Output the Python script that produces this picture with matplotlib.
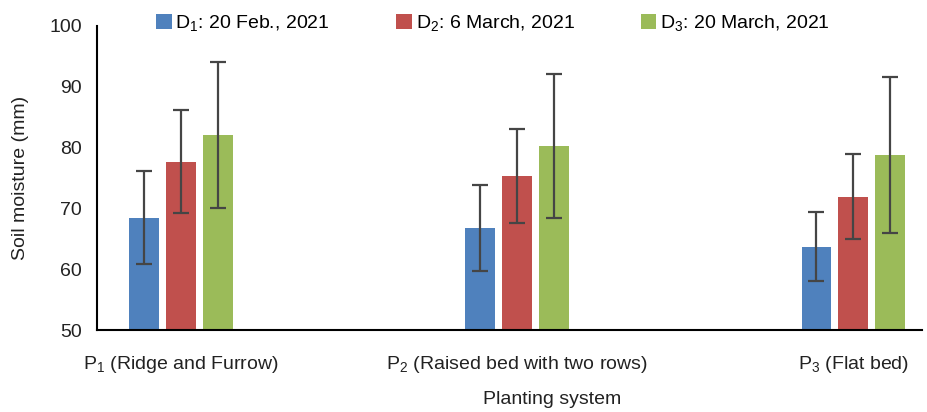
import numpy as np
import matplotlib
matplotlib.use("Agg")
import matplotlib.pyplot as plt

plt.rcParams['font.family'] = ['Liberation Sans', 'DejaVu Sans']
plt.rcParams['mathtext.fontset'] = 'custom'
plt.rcParams['mathtext.rm'] = 'Liberation Sans'

# soil moisture (mm) per planting system, three dates
systems = [r"P$_\mathregular{1}$ (Ridge and Furrow)",
           r"P$_\mathregular{2}$ (Raised bed with two rows)",
           r"P$_\mathregular{3}$ (Flat bed)"]
dates = [r"D$_\mathregular{1}$: 20 Feb., 2021",
         r"D$_\mathregular{2}$: 6 March, 2021",
         r"D$_\mathregular{3}$: 20 March, 2021"]
d1 = [68.5, 66.8, 63.7]
d2 = [77.7, 75.3, 71.9]
d3 = [82.0, 80.3, 78.8]
d1_err = [7.7, 7.05, 5.7]
d2_err = [8.45, 7.75, 7.0]
d3_err = [12.0, 11.85, 12.8]

colors = ["#4F81BD", "#C0504D", "#9BBB59"]

fig = plt.figure(figsize=(9.27, 4.12), dpi=100)
ax = fig.add_axes([0.1046, 0.199, 0.8900, 0.738])

x = np.arange(len(systems))
w = 0.087
step = 0.11
series = [d1, d2, d3]
errs = [d1_err, d2_err, d3_err]
for i in range(3):
    ax.bar(x + (i - 1) * step, series[i], w, color=colors[i], label=dates[i],
           yerr=errs[i], capsize=5.5,
           error_kw=dict(ecolor="#454545", elinewidth=1.6, capthick=1.6))

ax.set_ylim(50, 100)
ax.set_xlim(-0.25, 2.205)
ax.set_yticks([50, 60, 70, 80, 90, 100])
ax.set_xticks(x)
ax.set_xticklabels(systems)
ax.tick_params(length=0, labelsize=14, colors="#222222")
ax.tick_params(axis='x', pad=17)
ax.tick_params(axis='y', pad=11)
for s in ["top", "right"]:
    ax.spines[s].set_visible(False)
ax.spines["left"].set_linewidth(1.5)
ax.spines["bottom"].set_linewidth(1.5)

ax.set_ylabel("Soil moisture (mm)", fontsize=14, color="#222222")
ax.set_xlabel("Planting system", fontsize=14, color="#222222")
ax.xaxis.set_label_coords(0.552, -0.2)
ax.yaxis.set_label_coords(-0.082, 0.5)

ax.legend(loc="center", bbox_to_anchor=(0.48, 1.008), ncol=3, frameon=False,
          fontsize=14, handlelength=0.8, handleheight=0.8, handletextpad=0.2,
          columnspacing=3.4, borderpad=0)

fig.savefig("out.png", dpi=100)
